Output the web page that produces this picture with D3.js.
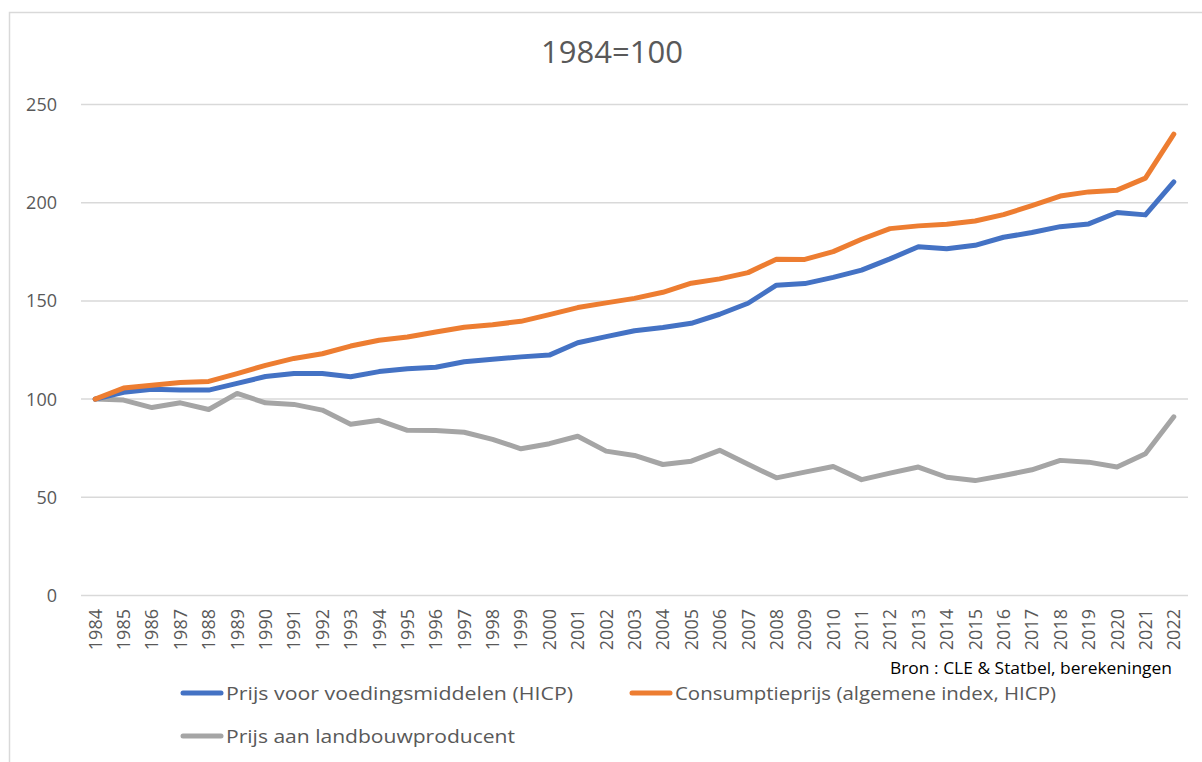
<!DOCTYPE html>
<html>
<head>
<meta charset="utf-8">
<script src="https://cdn.jsdelivr.net/npm/d3@7"></script>
<style>
  body { margin: 0; background: #fff; }
  text { font-family: "Open Sans", sans-serif; }
</style>
</head>
<body>
<script>
var w = 1202;
var h = 762;

var years = [1984, 1985, 1986, 1987, 1988, 1989, 1990, 1991, 1992, 1993,
             1994, 1995, 1996, 1997, 1998, 1999, 2000, 2001, 2002, 2003,
             2004, 2005, 2006, 2007, 2008, 2009, 2010, 2011, 2012, 2013,
             2014, 2015, 2016, 2017, 2018, 2019, 2020, 2021, 2022];

// Prijs voor voedingsmiddelen (HICP)
var food = [100, 103.5, 105, 104.6, 104.6, 108, 111.5, 113, 113, 111.4,
            114, 115.5, 116.2, 119, 120.3, 121.5, 122.4, 128.7, 131.8, 134.8,
            136.5, 138.6, 143.2, 148.8, 158, 158.8, 162, 165.7, 171.4, 177.6,
            176.6, 178.3, 182.4, 184.8, 187.8, 189.2, 195, 193.8, 210.6];

// Consumptieprijs (algemene index, HICP)
var cpi = [100, 105.6, 107.1, 108.5, 109, 113, 117.2, 120.7, 123.1, 127,
           130, 131.6, 134.2, 136.6, 137.9, 139.6, 143, 146.6, 149, 151.3,
           154.4, 159, 161.2, 164.4, 171.2, 171.1, 175.1, 181.4, 186.8, 188.2,
           189, 190.7, 193.9, 198.5, 203.4, 205.5, 206.4, 212.5, 234.9];

// Prijs aan landbouwproducent
var farm = [100, 99.5, 95.7, 98.1, 94.7, 102.9, 98.1, 97.3, 94.4, 87.2,
            89.2, 84.1, 84, 83.1, 79.5, 74.7, 77.3, 81.1, 73.5, 71.3,
            66.7, 68.4, 73.9, 66.8, 59.9, 62.8, 65.7, 59, 62.3, 65.4,
            60.2, 58.5, 61.1, 64, 68.8, 67.9, 65.4, 72.2, 91];

var yTicks = [0, 50, 100, 150, 200, 250];
var seriesNames = ["Prijs voor voedingsmiddelen (HICP)",
                   "Consumptieprijs (algemene index, HICP)",
                   "Prijs aan landbouwproducent"];
var colors = ["#4472C4", "#ED7D31", "#A5A5A5"];

var svg = d3.select("body")
            .append("svg")
            .attr("width", w)
            .attr("height", h);

// chart frame (right and bottom run off the picture)
svg.append("rect")
   .attr("x", 9.5).attr("y", 12.5)
   .attr("width", 1300).attr("height", 800)
   .attr("fill", "none")
   .attr("stroke", "#d9d9d9")
   .attr("stroke-width", 1.5);

var x = d3.scaleBand()
          .domain(years)
          .range([81, 1188]);

var y = d3.scaleLinear()
          .domain([0, 250])
          .range([595.5, 104.5]);

// gridlines
svg.selectAll("line.grid")
   .data(yTicks)
   .enter()
   .append("line")
   .attr("class", "grid")
   .attr("x1", 81)
   .attr("x2", 1188)
   .attr("y1", function(d){ return y(d); })
   .attr("y2", function(d){ return y(d); })
   .attr("stroke", "#d9d9d9")
   .attr("stroke-width", 1.5);

// y labels
svg.selectAll("text.ylab")
   .data(yTicks)
   .enter()
   .append("text")
   .attr("class", "ylab")
   .attr("x", 57)
   .attr("y", function(d){ return y(d) + 6.5; })
   .attr("text-anchor", "end")
   .attr("font-size", "18px")
   .attr("fill", "#595959")
   .text(function(d){ return d; });

// x labels, rotated
svg.selectAll("text.xlab")
   .data(years)
   .enter()
   .append("text")
   .attr("class", "xlab")
   .attr("transform", function(d){
       return "translate(" + (x(d) + x.bandwidth() / 2 + 6.5) + ",609) rotate(-90)";
   })
   .attr("text-anchor", "end")
   .attr("font-size", "18px")
   .attr("fill", "#595959")
   .text(function(d){ return d; });

var line = d3.line()
             .x(function(d, i){ return x(years[i]) + x.bandwidth() / 2; })
             .y(function(d){ return y(d); });

[farm, food, cpi].forEach(function(s){
    var k = s === food ? 0 : (s === cpi ? 1 : 2);
    svg.append("path")
       .datum(s)
       .attr("d", line)
       .attr("fill", "none")
       .attr("stroke", colors[k])
       .attr("stroke-width", 5)
       .attr("stroke-linejoin", "round")
       .attr("stroke-linecap", "round");
});

// title
svg.append("text")
   .attr("x", 612)
   .attr("y", 63)
   .attr("text-anchor", "middle")
   .attr("font-size", "31px")
   .attr("fill", "#595959")
   .text("1984=100");

// legend
var legendPos = [[183, 693, 347], [632, 693, 381], [183, 736, 289]];
legendPos.forEach(function(p, i){
    svg.append("line")
       .attr("x1", p[0]).attr("x2", p[0] + 38)
       .attr("y1", p[1]).attr("y2", p[1])
       .attr("stroke", colors[i])
       .attr("stroke-width", 5)
       .attr("stroke-linecap", "round");
    svg.append("text")
       .attr("x", p[0] + 43)
       .attr("y", p[1] + 6.5)
       .attr("font-size", "19px")
       .attr("fill", "#595959")
       .attr("textLength", p[2])
       .attr("lengthAdjust", "spacingAndGlyphs")
       .text(seriesNames[i]);
});

// source note, kept just above the legend row
svg.append("text")
   .attr("x", 1172)
   .attr("y", 674)
   .attr("text-anchor", "end")
   .attr("font-size", "16px")
   .attr("fill", "#000")
   .attr("textLength", 282)
   .attr("lengthAdjust", "spacingAndGlyphs")
   .text("Bron : CLE & Statbel, berekeningen");
</script>
</body>
</html>
